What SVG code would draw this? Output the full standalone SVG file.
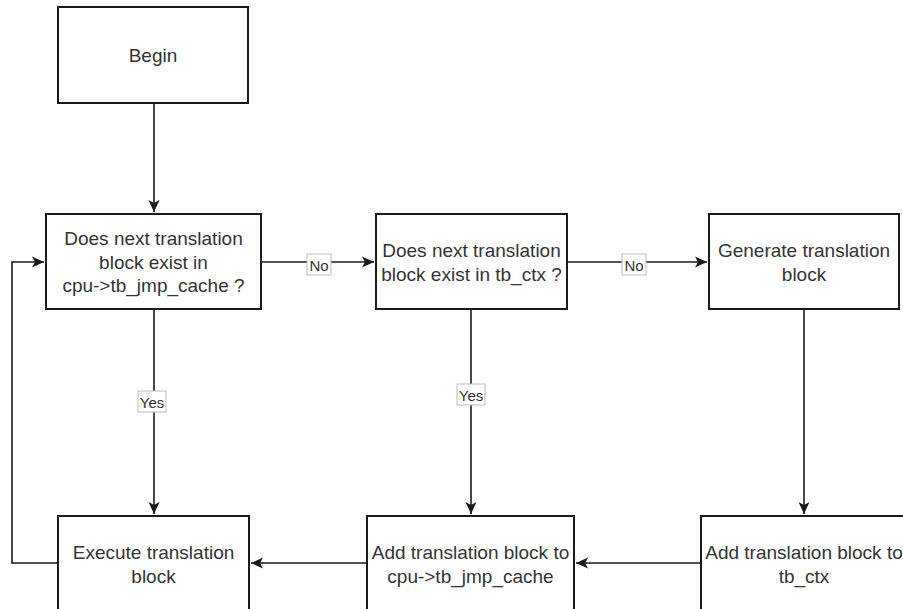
<svg xmlns="http://www.w3.org/2000/svg" width="903" height="609" viewBox="0 0 903 609">
<style>
.box{fill:#fff;stroke:#1a1a1a;stroke-width:2}
.t{font-family:"Liberation Sans",Arial,sans-serif;font-size:19px;fill:#333;text-anchor:middle;dominant-baseline:central}
.c{fill:none;stroke:#1a1a1a;stroke-width:1.6}
.lb{fill:#fff;stroke:#bbb;stroke-width:1}
.lt{font-family:"Liberation Sans",Arial,sans-serif;font-size:15px;fill:#333;text-anchor:middle;dominant-baseline:central}
</style>
<defs>
<marker id="ar" markerUnits="userSpaceOnUse" markerWidth="14" markerHeight="14" viewBox="0 0 14 14" refX="13" refY="7" orient="auto">
<path d="M1,1.5 L13,7 L1,12.5 L4,7 z" fill="#1a1a1a"/>
</marker>
</defs>
<g id="connectors">
<path class="c" d="M154,103 V212" marker-end="url(#ar)"/>
<path class="c" d="M261,262 H374" marker-end="url(#ar)"/>
<path class="c" d="M567,262 H707" marker-end="url(#ar)"/>
<path class="c" d="M154,309 V514" marker-end="url(#ar)"/>
<path class="c" d="M471,309 V514" marker-end="url(#ar)"/>
<path class="c" d="M804,309 V514" marker-end="url(#ar)"/>
<path class="c" d="M701,563 H576" marker-end="url(#ar)"/>
<path class="c" d="M367,563 H251" marker-end="url(#ar)"/>
<path class="c" d="M58,563 H12 V262 H44" marker-end="url(#ar)"/>
<g id="label-no1"><rect class="lb" x="307" y="254" width="24" height="21"/><text class="lt" x="319" y="265">No</text></g>
<g id="label-no2"><rect class="lb" x="622" y="254" width="24" height="21"/><text class="lt" x="634" y="265">No</text></g>
<g id="label-yes1"><rect class="lb" x="138" y="391" width="28" height="21"/><text class="lt" x="152" y="402">Yes</text></g>
<g id="label-yes2"><rect class="lb" x="457" y="384" width="28" height="21"/><text class="lt" x="471" y="395">Yes</text></g>
</g>
<g id="begin"><rect class="box" x="58" y="7" width="190" height="96"/><text class="t" x="153" y="55">Begin</text></g>
<g id="check-jmp-cache"><rect class="box" x="46" y="214" width="215" height="95"/>
<text class="t" x="153.5" y="238.5">Does next translation</text>
<text class="t" x="153.5" y="262">block exist in</text>
<text class="t" x="153.5" y="285.5">cpu-&gt;tb_jmp_cache ?</text></g>
<g id="check-tb-ctx"><rect class="box" x="376" y="214" width="191" height="95"/>
<text class="t" x="471.5" y="250">Does next translation</text>
<text class="t" x="471.5" y="274.5">block exist in tb_ctx ?</text></g>
<g id="generate"><rect class="box" x="709" y="214" width="190" height="95"/>
<text class="t" x="804" y="250">Generate translation</text>
<text class="t" x="804" y="274.5">block</text></g>
<g id="execute"><rect class="box" x="58" y="516" width="191" height="95"/>
<text class="t" x="153.5" y="552">Execute translation</text>
<text class="t" x="153.5" y="576">block</text></g>
<g id="add-jmp-cache"><rect class="box" x="367" y="516" width="207" height="95"/>
<text class="t" x="470.5" y="552">Add translation block to</text>
<text class="t" x="470.5" y="576">cpu-&gt;tb_jmp_cache</text></g>
<g id="add-tb-ctx"><rect class="box" x="701" y="516" width="206" height="95"/>
<text class="t" x="804" y="552">Add translation block to</text>
<text class="t" x="804" y="576">tb_ctx</text></g>
</svg>
